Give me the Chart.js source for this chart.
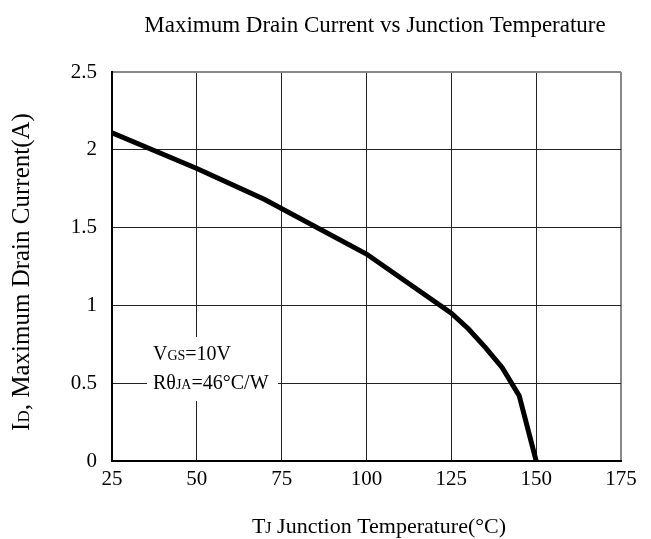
<!DOCTYPE html>
<html>
<head>
<meta charset="utf-8">
<script src="https://cdn.jsdelivr.net/npm/chart.js@4.4.1/dist/chart.umd.min.js"></script>
<style>
  html, body { margin: 0; padding: 0; background: #fff; }
  #wrap { width: 651px; height: 539px; }
</style>
</head>
<body>
<div id="wrap"><canvas id="chart" width="651" height="539"></canvas></div>
<script>
const temps = [25, 50, 70, 100, 125, 130, 135, 140, 145, 150]
const currents = [2.11, 1.88, 1.68, 1.33, 0.95, 0.85, 0.73, 0.60, 0.42, 0]
const xTicks = [25, 50, 75, 100, 125, 150, 175]
const yTicks = [0, 0.5, 1, 1.5, 2, 2.5]

const serif = '"Liberation Serif", "DejaVu Serif", serif'

// draws a run of text pieces with different sizes (for the subscripts)
function drawRuns(ctx, runs, x, y, align) {
    let total = 0
    runs.forEach(r => {
        ctx.font = r[1] + 'px ' + serif
        total += ctx.measureText(r[0]).width
    })
    let cx = align === 'center' ? x - total / 2 : x
    ctx.textAlign = 'left'
    ctx.textBaseline = 'alphabetic'
    runs.forEach(r => {
        ctx.font = r[1] + 'px ' + serif
        ctx.fillText(r[0], cx, y)
        cx += ctx.measureText(r[0]).width
    })
}

const textPlugin = {
    id: 'texts',
    afterDraw(chart) {
        const ctx = chart.ctx
        ctx.save()
        ctx.fillStyle = '#000'

        drawRuns(ctx, [['Maximum Drain Current vs Junction Temperature', 23]], 375, 32, 'center')
        drawRuns(ctx, [['T', 22], ['J', 16], [' Junction Temperature(°C)', 22]], 379, 533, 'center')

        ctx.save()
        ctx.translate(29, 272)
        ctx.rotate(-Math.PI / 2)
        drawRuns(ctx, [['I', 25], ['D', 17], [', Maximum Drain Current(A)', 25]], 0, 0, 'center')
        ctx.restore()

        // note box over the grid
        ctx.fillStyle = '#fff'
        ctx.fillRect(147, 337, 131, 64)
        ctx.fillStyle = '#000'
        drawRuns(ctx, [['V', 20], ['GS', 14], ['=10V', 20]], 153, 360, 'left')
        drawRuns(ctx, [['Rθ', 20], ['JA', 14], ['=46°C/W', 20]], 153, 389, 'left')
        ctx.restore()
    }
}

new Chart(document.getElementById('chart'), {
    type: 'line',
    data: {
        datasets: [{
            data: temps.map((t, i) => ({ x: t, y: currents[i] })),
            borderColor: '#000',
            borderWidth: 5,
            pointRadius: 0,
            tension: 0,
            fill: false
        }]
    },
    options: {
        responsive: false,
        animation: false,
        layout: { padding: { top: 72, right: 30, left: 0, bottom: 0 } },
        plugins: {
            legend: { display: false },
            tooltip: { enabled: false }
        },
        scales: {
            x: {
                type: 'linear',
                min: 25,
                max: 175,
                afterBuildTicks: s => { s.ticks = xTicks.map(v => ({ value: v })) },
                afterFit: s => { s.height = 78 },
                grid: {
                    drawTicks: false,
                    color: c => c.tick && c.tick.value === 175 ? '#888' : '#222',
                    lineWidth: c => c.tick && c.tick.value === 175 ? 2 : 1
                },
                border: { color: '#000', width: 2 },
                ticks: {
                    padding: 6,
                    color: '#000',
                    font: { family: serif, size: 21 },
                    callback: v => String(v)
                }
            },
            y: {
                min: 0,
                max: 2.5,
                afterBuildTicks: s => { s.ticks = yTicks.map(v => ({ value: v })) },
                afterFit: s => { s.width = 112 },
                grid: {
                    drawTicks: false,
                    color: c => c.tick && c.tick.value === 2.5 ? '#888' : '#222',
                    lineWidth: c => c.tick && c.tick.value === 2.5 ? 2 : 1
                },
                border: { color: '#000', width: 2 },
                ticks: {
                    padding: 15,
                    color: '#000',
                    font: { family: serif, size: 21 },
                    callback: v => String(v)
                }
            }
        }
    },
    plugins: [textPlugin]
})
</script>
</body>
</html>
